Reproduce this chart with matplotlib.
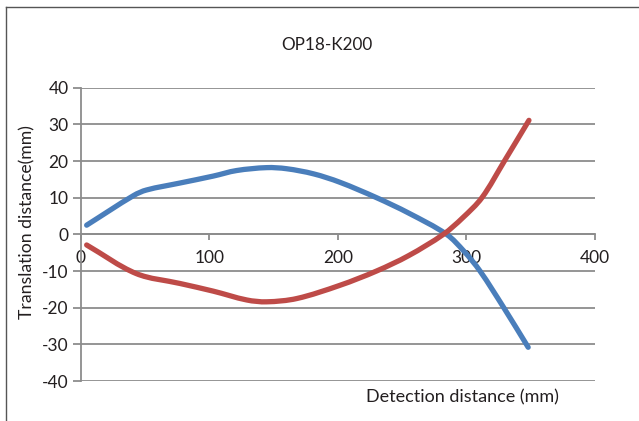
import matplotlib
matplotlib.use('Agg')
import numpy as np
import matplotlib.pyplot as plt
from matplotlib.lines import Line2D
from matplotlib.path import Path
from matplotlib.patches import PathPatch

plt.rcParams['font.family'] = ['Lato', 'DejaVu Sans']

# points
blue_x = [4.4, 41, 51, 77, 103, 121, 144.5, 160, 181, 201.5, 230, 255, 284.5, 298, 310.5, 329, 348]
blue_y = [2.5, 10.6, 12.1, 14.0, 15.9, 17.4, 18.2, 17.9, 16.5, 14.2, 10.0, 5.8, 0.0, -4.6, -10.0, -20.0, -30.8]
red_x = [4.4, 43, 77, 103, 129, 144.5, 168, 201.5, 230, 255, 282, 297, 312, 329.5, 348.6]
red_y = [-2.9, -10.7, -13.4, -15.5, -17.9, -18.4, -17.5, -13.9, -10.0, -5.8, 0.0, 4.5, 10.0, 20.0, 31.1]

x_ticks = [0, 100, 200, 300, 400]
y_ticks = [-40, -30, -20, -10, 0, 10, 20, 30, 40]

ax_box = [81, 87.7, 595, 381]   # left, top, right, bottom in pixels
sx = (ax_box[2] - ax_box[0]) / 400.0
sy = (ax_box[3] - ax_box[1]) / 80.0


def smooth_path(xs, ys):
    # smoothed line: cubic bezier through every point, tangents scaled by pixel distance
    p = np.column_stack([xs, ys]).astype(float)
    n = len(p)
    d = np.linalg.norm(np.diff(p * [sx, sy], axis=0), axis=1)
    tang = np.zeros_like(p)
    for i in range(n):
        if i == 0:
            tang[i] = (p[1] - p[0]) / d[0]
        elif i == n - 1:
            tang[i] = (p[-1] - p[-2]) / d[-1]
        else:
            tang[i] = (p[i + 1] - p[i - 1]) / (d[i - 1] + d[i])
    verts = [tuple(p[0])]
    codes = [Path.MOVETO]
    for i in range(n - 1):
        c1 = p[i] + tang[i] * d[i] / 3
        c2 = p[i + 1] - tang[i + 1] * d[i] / 3
        verts += [tuple(c1), tuple(c2), tuple(p[i + 1])]
        codes += [Path.CURVE4] * 3
    return Path(verts, codes)


fig = plt.figure(figsize=(6.39, 4.21), dpi=100)
ax = fig.add_axes([ax_box[0] / 639, 1 - ax_box[3] / 421,
                   (ax_box[2] - ax_box[0]) / 639, (ax_box[3] - ax_box[1]) / 421])

grid_c = '#8c8c8c'
for y in y_ticks:
    ax.axhline(y, color=grid_c, lw=1.3, zorder=1)

for xs, ys, c in [(blue_x, blue_y, '#4a7ebb'), (red_x, red_y, '#be4b48')]:
    ax.add_patch(PathPatch(smooth_path(xs, ys), fill=False, edgecolor=c, lw=3.8,
                           capstyle='round', joinstyle='round', zorder=3))

ax.set_xlim(0, 400)
ax.set_ylim(-40, 40)
ax.set_xticks(x_ticks)
ax.set_yticks(y_ticks)
ax.set_xticklabels([str(v) for v in x_ticks])
ax.set_yticklabels([str(v) for v in y_ticks])

for s in ['top', 'right']:
    ax.spines[s].set_visible(False)
ax.spines['bottom'].set_position(('data', 0))
ax.spines['bottom'].set_color(grid_c)
ax.spines['bottom'].set_linewidth(1.3)
ax.spines['left'].set_color(grid_c)
ax.spines['left'].set_linewidth(1.3)
ax.tick_params(axis='x', direction='out', length=4, width=1.3, color=grid_c, pad=7, labelsize=12.5, labelcolor='#231f20')
ax.tick_params(axis='y', direction='out', length=6, width=1.3, color=grid_c, pad=3, labelsize=12.5, labelcolor='#231f20')

fig.text(327 / 639, 1 - 45 / 421, 'OP18-K200', ha='center', va='center', fontsize=12.3, color='#231f20')
fig.text(27 / 639, 1 - 222 / 421, 'Translation distance(mm)', rotation=90, ha='center', va='center', fontsize=12.7, color='#231f20')
fig.text(462 / 639, 1 - 397 / 421, 'Detection distance (mm)', ha='center', va='center', fontsize=13, color='#231f20')

# outer chart border (top and left edges visible in the crop)
fig.add_artist(Line2D([6 / 639, 1], [1 - 7 / 421, 1 - 7 / 421], color='#555555', lw=1, transform=fig.transFigure))
fig.add_artist(Line2D([6 / 639, 6 / 639], [0, 1 - 7 / 421], color='#555555', lw=1, transform=fig.transFigure))

fig.savefig('out.png', dpi=100)
